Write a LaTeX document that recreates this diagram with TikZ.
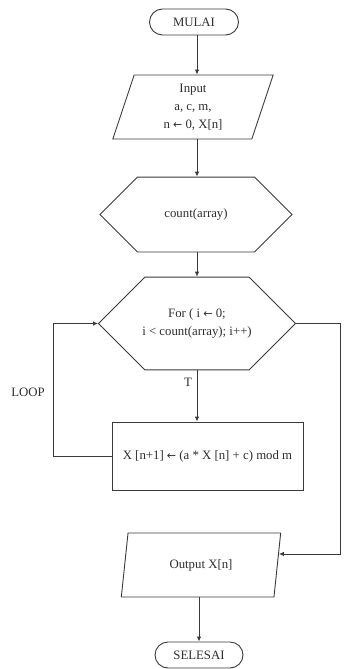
\documentclass[tikz,border=0pt]{standalone}
\usepackage{fontspec}
\setmainfont{Liberation Serif}
\newfontfamily\arrowfont{DejaVu Sans}
\newcommand{\getsArrow}{{\arrowfont\fontsize{11}{12}\selectfont ←}}
\usetikzlibrary{calc,shapes.misc,shapes.geometric,arrows.meta,positioning}
\definecolor{lineGray}{HTML}{3A3A3A}
\definecolor{textGray}{HTML}{2E2E2E}
\tikzset{
myBase/.style={
	draw=lineGray,line width=0.9pt,fill=white,
	text=textGray,align=center,
	font=\fontsize{12.8}{18}\selectfont
}
, myTerminal/.style={
	myBase,rounded rectangle,
	minimum width=89,minimum height=26,inner sep=0pt
}
, myIO/.style={
	myBase,trapezium,trapezium stretches=true,
	trapezium left angle=77,trapezium right angle=103,
	inner sep=0pt
}
, myHex/.style={
	myBase,chamfered rectangle,inner sep=0pt
}
, myProcess/.style={
	myBase,rectangle,inner sep=0pt
}
, myLabel/.style={
	text=textGray,font=\fontsize{12.8}{16}\selectfont,inner sep=1pt
}
% link
, myLink/.style={-{Latex[length=5pt,width=4.5pt]},draw=lineGray,line width=0.9pt}
}

\begin{document}
\begin{tikzpicture}[x=1pt,y=-1pt]
	\useasboundingbox (0,0) rectangle (345,669);
	% nodes
	\node[myTerminal] (Start) at (194,22) {MULAI};
	\node[myIO,minimum width=161,minimum height=64] (Input) at (193,107)
		{Input\\a, c, m,\\n \getsArrow{} 0, X[n]};
	\node[myHex,minimum width=192,minimum height=65,
		chamfered rectangle xsep=36,chamfered rectangle ysep=32.5] (Count) at (196,214.5)
		{count(array)};
	\node[myHex,minimum width=197,minimum height=63,
		chamfered rectangle xsep=39,chamfered rectangle ysep=31.5] (For) at (197,323.5)
		{For ( i \getsArrow{} 0;\\i < count(array); i++)};
	\node[myProcess,minimum width=191,minimum height=68] (Update) at (207.5,456)
		{X [n+1] \getsArrow{} (a * X [n] + c) mod m};
	\node[myIO,minimum width=160,minimum height=64,
		trapezium left angle=76,trapezium right angle=104] (Output) at (201,565)
		{Output X[n]};
	\node[myTerminal,minimum width=88] (Stop) at (199,655) {SELESAI};
	% labels
	\node[myLabel] (LoopText) at (28,392) {LOOP};
	\node[myLabel] (TrueText) at (188,382) {T};
	% corners
	\coordinate (LoopLeft) at (53,323.5);
	\coordinate (ExitRight) at (340,323.5);
	\coordinate (OutEntry) at ($(Output.top right corner)!0.33!(Output.bottom right corner)$);

	% links
	\draw[myLink] (Start.south -| For) -- (Input.north -| For);
	\draw[myLink] (Input.south -| For) -- (Count.north -| For);
	\draw[myLink] (Count.south -| For) -- (For.north);
	\draw[myLink] (For.south) -- (For.south |- Update.north);
	\draw[myLink] (Update.west) -| (LoopLeft) -- (For.west);
	\draw[myLink] (For.east) -- (ExitRight) |- (OutEntry);
	\draw[myLink] (Output.south -| Stop) -- (Stop.north);
\end{tikzpicture}
\end{document}
